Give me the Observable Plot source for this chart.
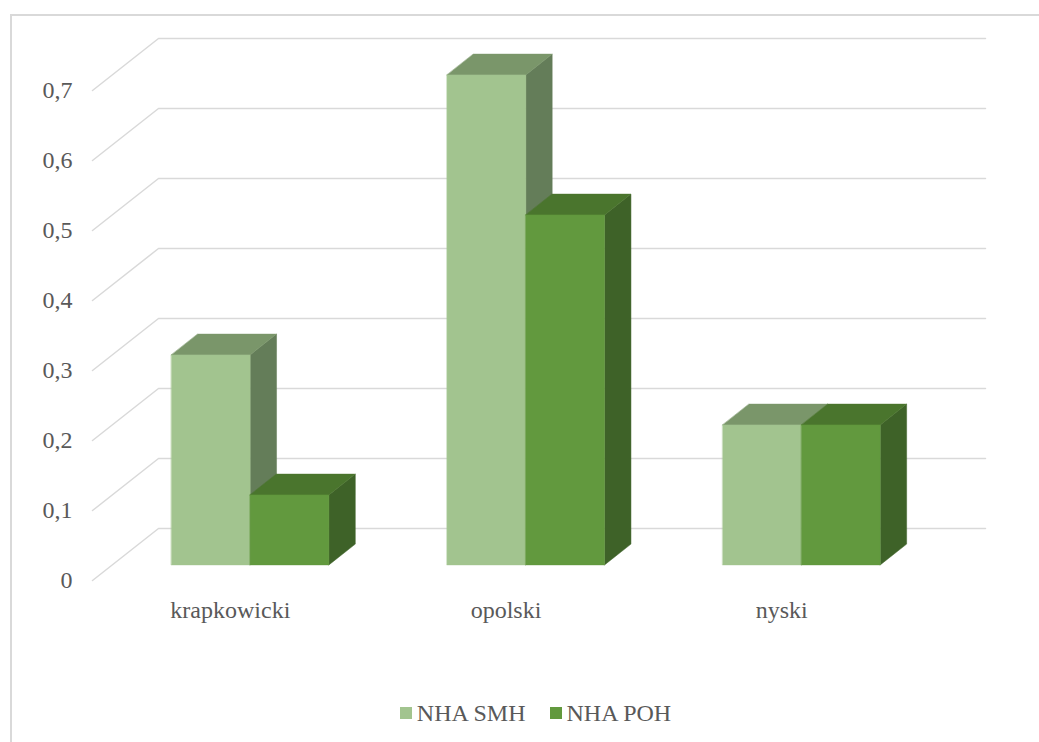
<!DOCTYPE html>
<html>
<head>
<meta charset="utf-8">
<script src="https://cdn.jsdelivr.net/npm/d3@7"></script>
<script src="https://cdn.jsdelivr.net/npm/@observablehq/plot@0.6"></script>
<style>
  html, body { margin: 0; padding: 0; background: #fff; }
  body { width: 1039px; height: 742px; position: relative; overflow: hidden; font-family: 'Liberation Serif', serif; }
  #frame { position: absolute; left: 10px; top: 14px; width: 1100px; height: 800px; border: 2px solid #d9d9d9; box-sizing: border-box; pointer-events: none; }
  #chart { position: absolute; left: 0; top: 0; }
  #legend { position: absolute; left: 16px; top: 699px; width: 1039px; height: 28px; display: flex; justify-content: center; align-items: center; font-family: 'Liberation Serif', serif; font-size: 24px; color: #595959; }
  .item { display: flex; align-items: center; margin: 0 12px; }
  .sw { width: 12px; height: 12px; margin-right: 5px; }
</style>
</head>
<body>
<div id="frame"></div>
<div id="chart"></div>
<div id="legend"></div>
<script>
const categories = ["krapkowicki", "opolski", "nyski"];
const seriesNames = ["NHA SMH", "NHA POH"];
const smhValues = [0.3, 0.7, 0.2];
const pohValues = [0.1, 0.5, 0.2];
const yTicks = [0, 0.1, 0.2, 0.3, 0.4, 0.5, 0.6, 0.7];
const yTickLabels = ["0", "0,1", "0,2", "0,3", "0,4", "0,5", "0,6", "0,7"];

const colors = {
  smh: { front: "#a2c48f", top: "#7a966a", side: "#647d59" },
  poh: { front: "#62993e", top: "#4a752d", side: "#3e6228" }
};

// oblique projection: depth d (0 = front of floor, 1 = back wall)
const DX = 66 / 275.67;   // category units per full depth
const DY = 52 / 700;      // value units per full depth
const proj = (x, v, d) => ({x: x + d * DX, y: v + d * DY});

const barW = 1 / 3.5;     // gap width 150%
const d0 = 0.3, d1 = 0.7;

function faces(values, offset, key) {
  const front = [], top = [], side = [];
  values.forEach((v, i) => {
    const x0 = i + 0.5 + offset, x1 = x0 + barW;
    const id = key + i;
    [[x0,0,d0],[x1,0,d0],[x1,v,d0],[x0,v,d0]].forEach(p => front.push({id, ...proj(...p)}));
    [[x0,v,d0],[x1,v,d0],[x1,v,d1],[x0,v,d1]].forEach(p => top.push({id, ...proj(...p)}));
    [[x1,0,d0],[x1,0,d1],[x1,v,d1],[x1,v,d0]].forEach(p => side.push({id, ...proj(...p)}));
  });
  return {front, top, side};
}
const smhF = faces(smhValues, -barW, "s");
const pohF = faces(pohValues, 0, "p");

const grid = [];
yTicks.forEach(v => {
  [[0, v, 0], [0, v, 1], [categories.length, v, 1]].forEach(p => grid.push({id: v, ...proj(...p)}));
});

const font = {fontSize: 24, fontFamily: "'Liberation Serif', serif", fill: "#595959"};

function poly(data, fill) {
  return Plot.line(data, {x: "x", y: "y", z: "id", fill, stroke: fill, strokeWidth: 0.5, curve: "linear-closed"});
}

const plot = Plot.plot({
  width: 1039,
  height: 690,
  x: {domain: [0, categories.length], range: [92, 919], axis: null},
  y: {domain: [0, 0.7], range: [580, 90], axis: null},
  style: {background: "transparent", overflow: "visible", fontFamily: "'Liberation Serif', serif"},
  marks: [
    Plot.line(grid, {x: "x", y: "y", z: "id", stroke: "#d9d9d9", strokeWidth: 1.5}),
    poly(smhF.side, colors.smh.side),
    poly(smhF.top, colors.smh.top),
    poly(smhF.front, colors.smh.front),
    poly(pohF.side, colors.poh.side),
    poly(pohF.top, colors.poh.top),
    poly(pohF.front, colors.poh.front),
    Plot.text(yTicks, {x: 0, y: d => d, text: (d, i) => yTickLabels[i], dx: -20, textAnchor: "end", ...font}),
    Plot.text(categories, {x: (d, i) => i + 0.5, y: 0, text: d => d, dy: 30, ...font})
  ]
});
document.getElementById("chart").appendChild(plot);

const legend = document.getElementById("legend");
[[seriesNames[0], colors.smh.front], [seriesNames[1], colors.poh.front]].forEach(([name, c]) => {
  const item = document.createElement("div");
  item.className = "item";
  const sw = document.createElement("span");
  sw.className = "sw";
  sw.style.background = c;
  const t = document.createElement("span");
  t.textContent = name;
  item.appendChild(sw);
  item.appendChild(t);
  legend.appendChild(item);
});
</script>
</body>
</html>
